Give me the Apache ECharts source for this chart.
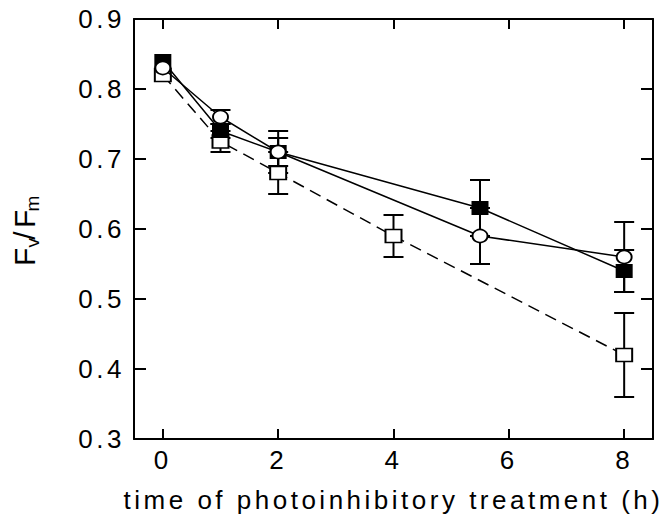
<!DOCTYPE html>
<html>
<head>
<meta charset="utf-8">
<script src="https://cdn.jsdelivr.net/npm/echarts@6/dist/echarts.min.js"></script>
<style>
  html, body { margin: 0; padding: 0; background: #fff; }
  #chart { width: 664px; height: 515px; }
  /* the figure uses widely spaced lettering */
  #chart text { letter-spacing: 3.5px; }
</style>
</head>
<body>
<div id="chart"></div>
<script>
// values
const xTicks = [0, 2, 4, 6, 8];
const yTicks = [0.3, 0.4, 0.5, 0.6, 0.7, 0.8, 0.9];

const filledX = [0, 1, 2, 5.5, 8];
const filledY = [0.84, 0.74, 0.71, 0.63, 0.54];
const filledErr = [0, 0.01, 0.03, 0.04, 0.03];

const circleX = [0, 1, 2, 5.5, 8];
const circleY = [0.83, 0.76, 0.71, 0.59, 0.56];
const circleErr = [0, 0.01, 0.02, 0.04, 0.05];

const openX = [0, 1, 2, 4, 8];
const openY = [0.82, 0.725, 0.68, 0.59, 0.42];
const openErr = [0, 0.015, 0.03, 0.03, 0.06];

const font = 'Liberation Sans, Arial, sans-serif';

function pairs(xs, ys) {
  return xs.map((x, i) => [x, ys[i]]);
}
function errData(xs, ys, es) {
  return xs.map((x, i) => [x, ys[i], es[i]]);
}

function errRender(params, api) {
  const x = api.value(0), y = api.value(1), e = api.value(2);
  if (!e) return null;
  const top = api.coord([x, y + e]);
  const bot = api.coord([x, y - e]);
  const w = 10;
  const st = { stroke: '#000', lineWidth: 2 };
  return {
    type: 'group',
    children: [
      { type: 'line', shape: { x1: top[0], y1: top[1], x2: bot[0], y2: bot[1] }, style: st },
      { type: 'line', shape: { x1: top[0] - w, y1: top[1], x2: top[0] + w, y2: top[1] }, style: st },
      { type: 'line', shape: { x1: bot[0] - w, y1: bot[1], x2: bot[0] + w, y2: bot[1] }, style: st }
    ]
  };
}

const axisLine = { show: true, onZero: false, lineStyle: { color: '#000', width: 2 } };

const chart = echarts.init(document.getElementById('chart'), null, { renderer: 'svg' });
chart.setOption({
  animation: false,
  backgroundColor: '#fff',
  grid: { left: 134, right: 11, top: 19, bottom: 76, outerBoundsMode: 'none' },
  xAxis: [
    {
      type: 'value', min: -0.5, max: 8.5,
      axisLine: axisLine,
      axisTick: { inside: true, length: 10, customValues: xTicks, lineStyle: { color: '#000', width: 2 } },
      axisLabel: { customValues: xTicks, margin: 8, color: '#000', fontSize: 26, fontFamily: font },
      splitLine: { show: false },
      name: 'time of photoinhibitory treatment (h)',
      nameLocation: 'middle', nameGap: 48,
      nameTextStyle: { color: '#000', fontSize: 26, fontFamily: font }
    },
    {
      type: 'value', min: -0.5, max: 8.5, position: 'top',
      axisLine: axisLine,
      axisTick: { inside: true, length: 10, customValues: xTicks, lineStyle: { color: '#000', width: 2 } },
      axisLabel: { show: false },
      splitLine: { show: false }
    }
  ],
  yAxis: [
    {
      type: 'value', min: 0.3, max: 0.9,
      axisLine: axisLine,
      axisTick: { inside: true, length: 12, customValues: yTicks, lineStyle: { color: '#000', width: 2 } },
      axisLabel: {
        customValues: yTicks, margin: 9, color: '#000', fontSize: 26, fontFamily: font,
        formatter: v => v.toFixed(1)
      },
      splitLine: { show: false },
      name: '{f|F}{s|v}{f|/F}{s|m}',
      nameLocation: 'middle', nameGap: 92, nameRotate: 90,
      nameTextStyle: {
        color: '#000', fontFamily: font,
        rich: {
          f: { fontSize: 30, fontFamily: font, color: '#000' },
          s: { fontSize: 19, fontFamily: font, color: '#000', padding: [16, 0, 0, 0] }
        }
      }
    },
    {
      type: 'value', min: 0.3, max: 0.9, position: 'right',
      axisLine: axisLine,
      axisTick: { inside: true, length: 12, customValues: yTicks, lineStyle: { color: '#000', width: 2 } },
      axisLabel: { show: false },
      splitLine: { show: false }
    }
  ],
  series: [
    {
      type: 'custom', renderItem: errRender, z: 1,
      encode: { x: 0, y: 1 },
      data: errData(openX, openY, openErr)
    },
    {
      type: 'custom', renderItem: errRender, z: 1,
      encode: { x: 0, y: 1 },
      data: errData(filledX, filledY, filledErr)
    },
    {
      type: 'custom', renderItem: errRender, z: 1,
      encode: { x: 0, y: 1 },
      data: errData(circleX, circleY, circleErr)
    },
    {
      name: 'open square', type: 'line', z: 2,
      data: pairs(openX, openY),
      symbol: 'rect', symbolSize: [16, 13], showAllSymbol: true,
      lineStyle: { color: '#000', width: 1.5, type: [12, 7] },
      itemStyle: { color: '#fff', borderColor: '#000', borderWidth: 1.8 }
    },
    {
      name: 'filled square', type: 'line', z: 3,
      data: pairs(filledX, filledY),
      symbol: 'rect', symbolSize: [17, 14], showAllSymbol: true,
      lineStyle: { color: '#000', width: 1.5 },
      itemStyle: { color: '#000', borderColor: '#000', borderWidth: 0 }
    },
    {
      name: 'open circle', type: 'line', z: 4,
      data: pairs(circleX, circleY),
      symbol: 'circle', symbolSize: [15, 13], showAllSymbol: true,
      lineStyle: { color: '#000', width: 1.5 },
      itemStyle: { color: '#fff', borderColor: '#000', borderWidth: 1.8 }
    }
  ]
});
</script>
</body>
</html>
